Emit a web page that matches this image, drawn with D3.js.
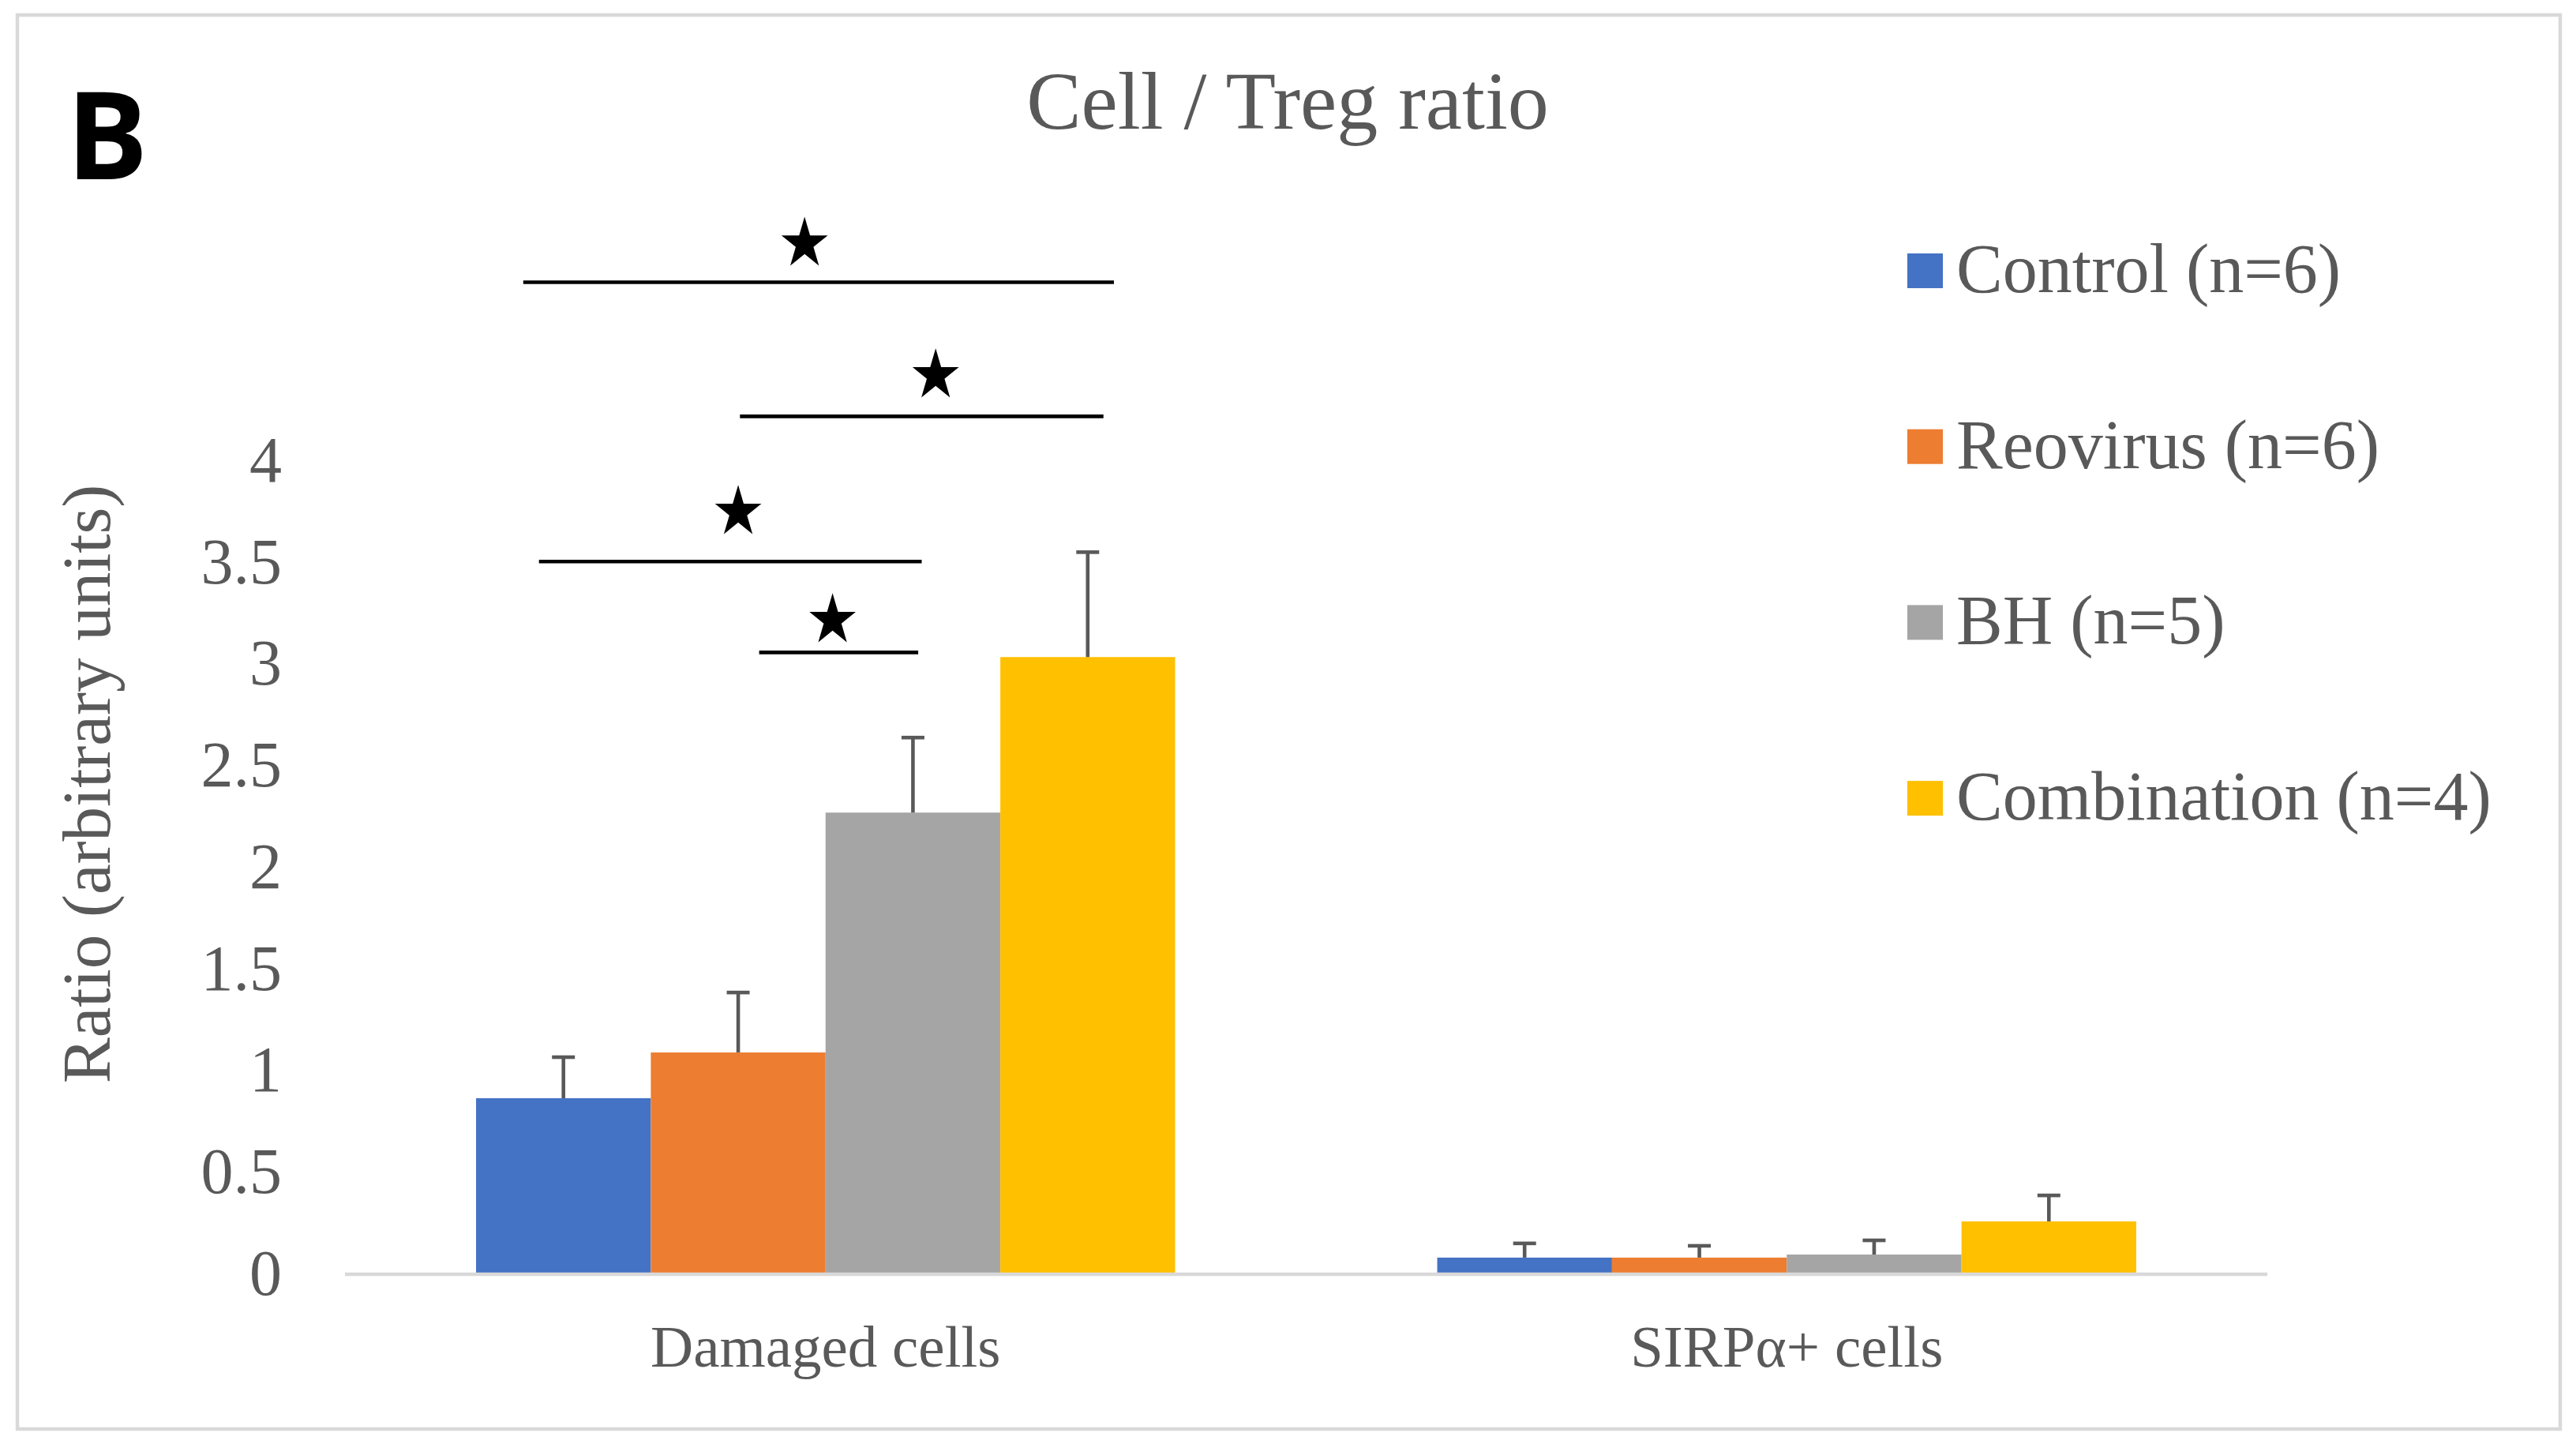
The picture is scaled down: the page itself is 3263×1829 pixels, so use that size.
<!DOCTYPE html>
<html>
<head>
<meta charset="utf-8">
<script src="https://cdn.jsdelivr.net/npm/d3@7"></script>
<style>
html,body{margin:0;padding:0;background:#fff;}
svg{display:block;}
</style>
</head>
<body>
<svg id="chart" width="3263" height="1829"></svg>
<script>
// ---- data ----
const categories = ["Damaged cells", "SIRPα+ cells"];
const seriesNames = ["Control (n=6)", "Reovirus (n=6)", "BH (n=5)", "Combination (n=4)"];
const seriesColors = ["#4472C4", "#ED7D31", "#A5A5A5", "#FFC000"];
// values per series: [Damaged cells, SIRPα+ cells]
const controlVals = [0.862, 0.078];
const reovirusVals = [1.087, 0.078];
const bhVals = [2.267, 0.093];
const combinationVals = [3.032, 0.256];
// error (upper) per series
const controlErr = [0.202, 0.070];
const reovirusErr = [0.295, 0.058];
const bhErr = [0.369, 0.070];
const combinationErr = [0.516, 0.128];
const yTicks = [0, 0.5, 1, 1.5, 2, 2.5, 3, 3.5, 4];
// significance annotations on "Damaged cells" (x in bar-width units from group start, y in data units)
const sigFrom = [0.27, 1.51, 0.36, 1.62];
const sigTo = [3.65, 3.59, 2.55, 2.53];
const sigY = [4.876, 4.216, 3.502, 3.055];
const starX = [1.88, 2.63, 1.50, 2.04];
const starY = [5.065, 4.417, 3.745, 3.213];

const values = [controlVals, reovirusVals, bhVals, combinationVals];
const errors = [controlErr, reovirusErr, bhErr, combinationErr];

// ---- layout ----
const W = 3263, H = 1829;
const svg = d3.select("#chart");
const textColor = "#595959";
const serif = "'Liberation Serif','Times New Roman',serif";

svg.append("rect").attr("x", 0).attr("y", 0).attr("width", W).attr("height", H).attr("fill", "#fff");
svg.append("rect").attr("x", 22).attr("y", 19).attr("width", 3221).attr("height", 1791)
  .attr("fill", "none").attr("stroke", "#d9d9d9").attr("stroke-width", 4.5);

// panel letter
svg.append("text").attr("x", 84).attr("y", 227)
  .attr("font-family", "'Open Sans',sans-serif").attr("font-weight", 700)
  .attr("font-size", 154).attr("fill", "#000").text("B");

// title
svg.append("text").attr("x", 1631).attr("y", 163).attr("text-anchor", "middle")
  .attr("font-family", serif).attr("font-size", 104).attr("fill", textColor)
  .text("Cell / Treg ratio");

const plotLeft = 437, plotRight = 2872, plotBottom = 1613, plotTop = 583;
const y = d3.scaleLinear().domain([0, 4]).range([plotBottom, plotTop]);
const x0 = d3.scaleBand().domain(categories).range([plotLeft, plotRight]).paddingInner(0).paddingOuter(0);
const bw = x0.bandwidth();
const barW = bw / 5.5;              // Excel gap width 150%
const groupOffset = barW * 0.75;
const x1 = d3.scaleBand().domain(d3.range(seriesNames.length)).range([groupOffset, groupOffset + barW * 4]);

// y axis labels
const yAxis = d3.axisLeft(y).tickValues(yTicks).tickSize(0).tickPadding(80).tickFormat(d3.format("~g"));
const gy = svg.append("g").attr("transform", `translate(${plotLeft},0)`).call(yAxis);
gy.select(".domain").remove();
gy.selectAll("text").attr("font-family", serif).attr("font-size", 82).attr("fill", textColor);

// y axis title
svg.append("text").attr("transform", "translate(139,993) rotate(-90)")
  .attr("text-anchor", "middle").attr("font-family", serif).attr("font-size", 87)
  .attr("fill", textColor).text("Ratio (arbitrary units)");

// bars
const groups = svg.append("g").selectAll("g").data(categories).join("g")
  .attr("transform", d => `translate(${x0(d)},0)`);
groups.each(function(cat, ci) {
  const g = d3.select(this);
  seriesNames.forEach((s, si) => {
    const v = values[si][ci];
    g.append("rect").attr("x", x1(si)).attr("y", y(v))
      .attr("width", x1.bandwidth()).attr("height", y(0) - y(v))
      .attr("fill", seriesColors[si]);
  });
});

// x axis line
svg.append("line").attr("x1", plotLeft).attr("x2", plotRight)
  .attr("y1", plotBottom + 1).attr("y2", plotBottom + 1)
  .attr("stroke", "#d9d9d9").attr("stroke-width", 4.5);

// error bars
groups.each(function(cat, ci) {
  const g = d3.select(this);
  seriesNames.forEach((s, si) => {
    const v = values[si][ci], e = errors[si][ci];
    const cx = x1(si) + x1.bandwidth() / 2;
    g.append("line").attr("x1", cx).attr("x2", cx).attr("y1", y(v)).attr("y2", y(v + e))
      .attr("stroke", textColor).attr("stroke-width", 4.6);
    g.append("line").attr("x1", cx - 14.5).attr("x2", cx + 14.5).attr("y1", y(v + e)).attr("y2", y(v + e))
      .attr("stroke", textColor).attr("stroke-width", 4.6);
  });
});

// x category labels
svg.append("g").selectAll("text").data(categories).join("text")
  .attr("x", d => x0(d) + bw / 2).attr("y", 1731).attr("text-anchor", "middle")
  .attr("font-family", serif).attr("font-size", 75).attr("fill", textColor)
  .text(d => d);

// significance bars and stars
const gx = x0(categories[0]) + groupOffset;
const sig = svg.append("g");
sigY.forEach((yy, i) => {
  sig.append("line").attr("x1", gx + sigFrom[i] * barW).attr("x2", gx + sigTo[i] * barW)
    .attr("y1", y(yy)).attr("y2", y(yy)).attr("stroke", "#000").attr("stroke-width", 4.6);
});
const starPath = d3.symbol().type(d3.symbolStar).size(1321)();
starY.forEach((yy, i) => {
  sig.append("path").attr("d", starPath)
    .attr("transform", `translate(${gx + starX[i] * barW},${y(yy)}) scale(0.9,1)`)
    .attr("fill", "#000");
});

// legend
const leg = svg.append("g").selectAll("g").data(seriesNames).join("g")
  .attr("transform", (d, i) => `translate(2416,${343 + i * 222.7})`);
leg.append("rect").attr("x", 0).attr("y", -22).attr("width", 45).attr("height", 44)
  .attr("fill", (d, i) => seriesColors[i]);
leg.append("text").attr("x", 62).attr("y", 27)
  .attr("font-family", serif).attr("font-size", 88).attr("fill", textColor)
  .text(d => d);
</script>
</body>
</html>
